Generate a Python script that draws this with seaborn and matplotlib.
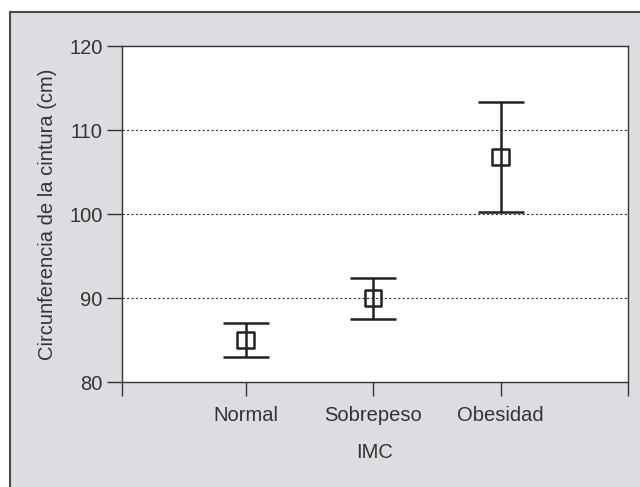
import matplotlib
matplotlib.use('Agg')
import matplotlib.pyplot as plt
import seaborn as sns
import pandas as pd
from matplotlib.patches import Rectangle

# Data: mean and interval per BMI group
groups = ['Normal', 'Sobrepeso', 'Obesidad']
means = [85.0, 90.0, 106.8]
lower = [83.0, 87.5, 100.2]
upper = [87.0, 92.4, 113.3]

df = pd.DataFrame({'grupo': groups, 'x': [1, 2, 3], 'media': means,
                   'inf': lower, 'sup': upper})

sns.set_style('white')
plt.rcParams['font.family'] = ['Liberation Sans', 'DejaVu Sans']

fig = plt.figure(figsize=(6.4, 4.87), dpi=100)
fig.patch.set_facecolor('white')
# grey framed panel behind the plot
fig.patches.append(Rectangle((10 / 640, -0.02), 1.0, 1 - 12 / 487 + 0.02,
                             transform=fig.transFigure, facecolor='#dcdde0',
                             edgecolor='#4a4a4a', linewidth=1.5, zorder=-10))

ax = fig.add_axes([122 / 640, 1 - 382 / 487, (628 - 122) / 640, (382 - 46) / 487])
ax.set_facecolor('white')

dark = '#222222'
for y in [90, 100, 110]:
    ax.axhline(y, color='#333333', linestyle=(0, (2, 2)), linewidth=0.8, zorder=1)

ax.errorbar(df['x'], df['media'],
            yerr=[df['media'] - df['inf'], df['sup'] - df['media']],
            fmt='none', ecolor=dark, elinewidth=1.8, capsize=16.5,
            capthick=1.8, zorder=2)
sns.scatterplot(data=df, x='x', y='media', marker='s', s=140,
                facecolor='none', edgecolor=dark, linewidth=1.8,
                ax=ax, zorder=3)

ax.set_xlim(0.03, 4)
ax.set_ylim(80, 120)
ax.set_xticks([0.03, 1, 2, 3, 4])
ax.set_xticklabels([''] + groups + [''])
ax.set_yticks([80, 90, 100, 110, 120])

for s in ax.spines.values():
    s.set_color('#333333')
    s.set_linewidth(1.0)

ax.tick_params(axis='y', length=11, width=1, color='#333333',
               labelsize=14.5, labelcolor='#333333', left=True, pad=3)
ax.tick_params(axis='x', length=10, width=1, color='#333333',
               labelsize=14.5, labelcolor='#333333', bottom=True, pad=7)

ax.set_xlabel('IMC', fontsize=14.5, color='#333333', labelpad=13)
ax.set_ylabel('Circunferencia de la cintura (cm)', fontsize=14.5,
              color='#333333', labelpad=9)

fig.savefig('out.png', dpi=100)
